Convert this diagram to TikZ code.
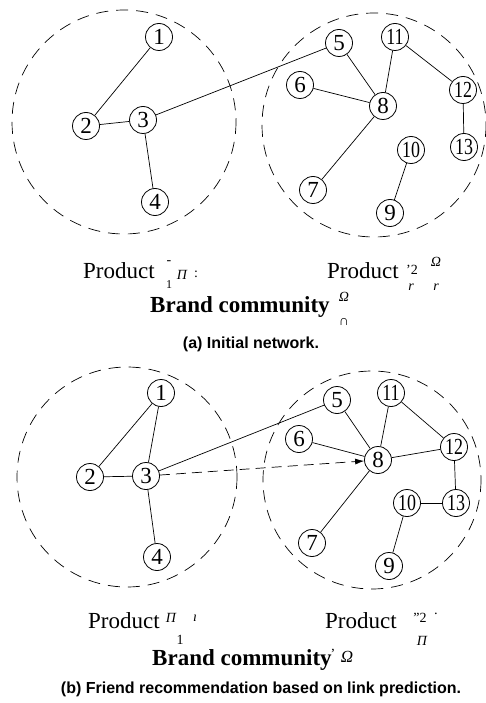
\documentclass[tikz,border=0pt]{standalone}
\usepackage{fontspec}
\setmainfont{Liberation Serif}
\newfontfamily\capfont{Liberation Sans}
\usetikzlibrary{arrows.meta}
\begin{document}
\begin{tikzpicture}[x=1pt,y=-1pt,
  vtx/.style={draw,circle,line width=0.8pt,minimum size=27pt,inner sep=0pt,
    font=\fontsize{23}{23}\selectfont},
  wide/.style={draw,circle,line width=0.8pt,minimum size=27pt,inner sep=0pt,
    font=\fontsize{23}{23}\selectfont\addfontfeature{FakeStretch=0.78}},
  link/.style={line width=0.7pt},
  guess/.style={line width=0.7pt,dash pattern=on 10pt off 6pt,-{Latex[length=9pt,width=6pt]}},
  community/.style={line width=0.7pt,dash pattern=on 12pt off 8pt},
  prodlabel/.style={font=\fontsize{23}{23}\selectfont,anchor=base west,inner sep=0pt},
  brandlabel/.style={font=\fontsize{23}{23}\selectfont\bfseries,anchor=base west,inner sep=0pt},
  frag/.style={font=\fontsize{14}{14}\selectfont,inner sep=0pt},
  caption/.style={font=\capfont\bfseries\fontsize{16}{16}\selectfont,anchor=base,inner sep=0pt}]
\useasboundingbox (0,0) rectangle (486,703);

% ---------- (a) initial network ----------
\draw[community] (124,122) circle (112);
\draw[community] (374,125) circle (112);

\node[vtx] (a1) at (159,37) {1};
\node[vtx] (a2) at (86,126) {2};
\node[vtx] (a3) at (143,120) {3};
\node[vtx] (a4) at (155,202) {4};
\node[vtx] (a5) at (339,43) {5};
\node[vtx] (a6) at (300,85) {6};
\node[vtx] (a7) at (313,190) {7};
\node[vtx] (a8) at (383,106) {8};
\node[vtx] (a9) at (390,213) {9};
\node[wide] (a10) at (411,150) {10};
\node[wide] (a11) at (395,37) {11};
\node[wide] (a12) at (463,90) {12};
\node[wide] (a13) at (464,147) {13};

\draw[link] (a1) -- (a2);
\draw[link] (a2) -- (a3);
\draw[link] (a3) -- (a4);
\draw[link] (a3) -- (a5);
\draw[link] (a5) -- (a8);
\draw[link] (a6) -- (a8);
\draw[link] (a8) -- (a11);
\draw[link] (a8) -- (a7);
\draw[link] (a11) -- (a12);
\draw[link] (a12) -- (a13);
\draw[link] (a10) -- (a9);

\node[prodlabel] (pa1) at (83,278) {Product};
\node[frag] (fa1) at (169,263) {-};
\node[frag,font=\fontsize{12}{12}\selectfont] (fa2) at (169,285) {1};
\node[frag] (fa3) at (182,275) {\itshape Π};
\node[frag] (fa4) at (196,274) {:};
\node[prodlabel] (pa2) at (327,278) {Product};
\node[frag] (fa5) at (412,270) {'2};
\node[frag] (fa6) at (436,262) {\itshape Ω};
\node[frag] (fa7) at (411,287) {\itshape r};
\node[frag] (fa8) at (436,287) {\itshape r};
\node[brandlabel] (ba) at (150,312) {Brand community};
\node[frag] (fa9) at (344,297) {\itshape Ω};
\node[frag] (fa10) at (344,322) {\itshape ∩};
\node[caption] (capa) at (251,348) {(a) Initial network.};

% ---------- (b) friend recommendation ----------
\draw[community] (127,477) circle (110);
\draw[community] (372,480) circle (109);

\node[vtx] (b1) at (161,393) {1};
\node[vtx] (b2) at (90,477) {2};
\node[vtx] (b3) at (146,476) {3};
\node[vtx] (b4) at (157,557) {4};
\node[vtx] (b5) at (337,400) {5};
\node[vtx] (b6) at (299,439) {6};
\node[vtx] (b7) at (312,543) {7};
\node[vtx] (b8) at (378,460) {8};
\node[vtx] (b9) at (389,566) {9};
\node[wide] (b10) at (407,503) {10};
\node[wide] (b11) at (391,393) {11};
\node[wide] (b12) at (454,447) {12};
\node[wide] (b13) at (456,503) {13};

\draw[link] (b1) -- (b2);
\draw[link] (b1) -- (b3);
\draw[link] (b2) -- (b3);
\draw[link] (b3) -- (b4);
\draw[link] (b3) -- (b5);
\draw[link] (b5) -- (b8);
\draw[link] (b6) -- (b8);
\draw[link] (b8) -- (b11);
\draw[link] (b8) -- (b12);
\draw[link] (b8) -- (b7);
\draw[link] (b11) -- (b12);
\draw[link] (b12) -- (b13);
\draw[link] (b10) -- (b13);
\draw[link] (b10) -- (b9);
\draw[guess] (b3) -- (b8);

\node[prodlabel] (pb1) at (88,628) {Product};
\node[frag] (fb1) at (171,618) {\itshape Π};
\node[frag] (fb2) at (180,640) {1};
\node[frag] (fb3) at (195,618) {\itshape ı};
\node[prodlabel] (pb2) at (325,628) {Product};
\node[frag] (fb4) at (420,618) {''2};
\node[frag] (fb5) at (422,641) {\itshape Π};
\node[frag] (fb6) at (436,616) {·};
\node[brandlabel] (bb) at (152,665) {Brand community};
\node[frag] (fb7) at (333,654) {'};
\node[frag,font=\fontsize{17}{17}\selectfont] (fb8) at (347,657) {\itshape Ω};
\node[caption] (capb) at (261,693) {(b) Friend recommendation based on link prediction.};
\end{tikzpicture}
\end{document}
